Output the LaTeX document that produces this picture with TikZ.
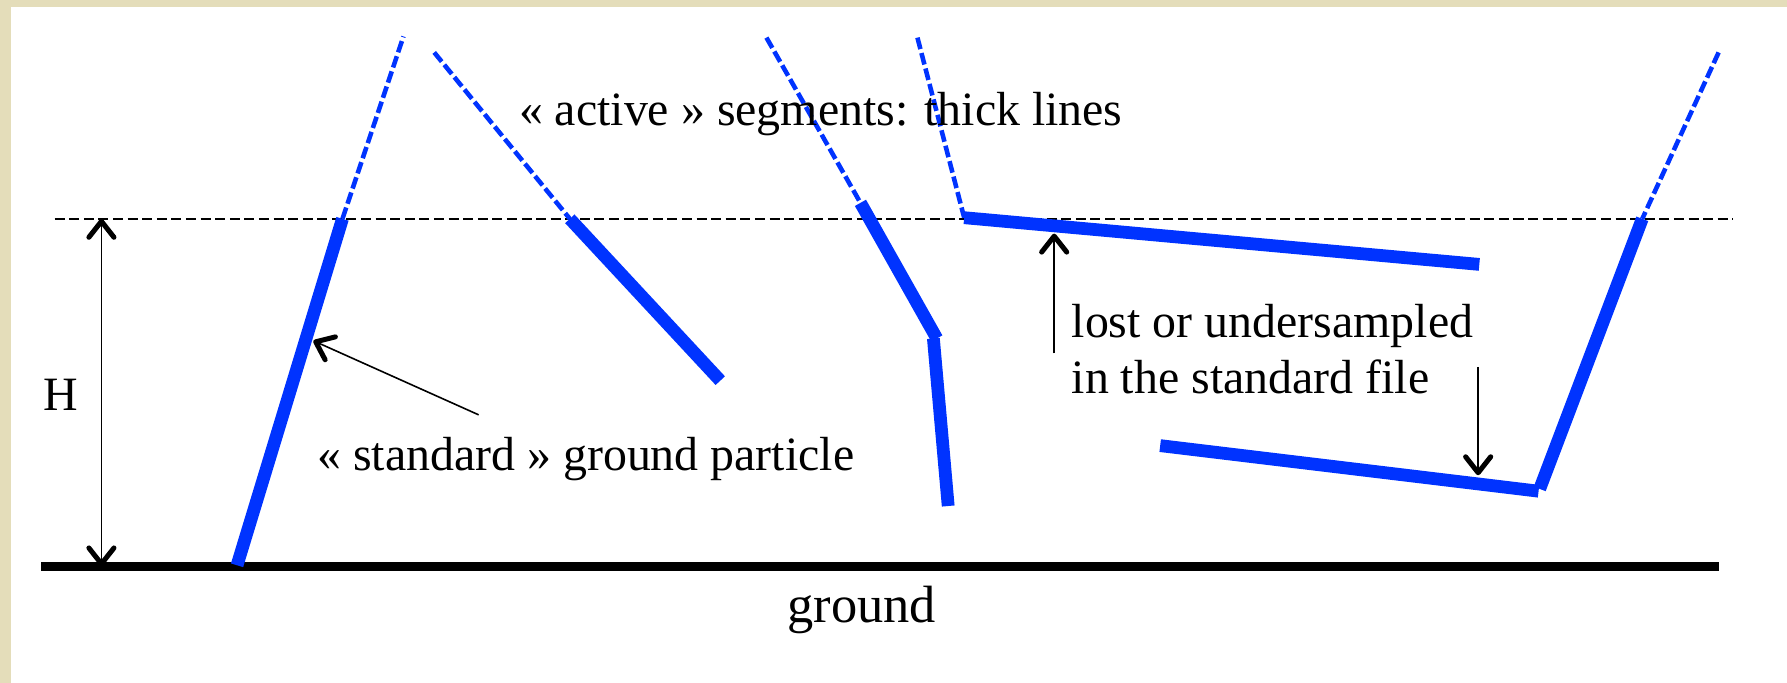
\documentclass[tikz,border=0pt]{standalone}
\usepackage{fontspec}
\setmainfont{Liberation Serif}
\usetikzlibrary{arrows.meta}
\definecolor{segblue}{RGB}{0,51,255}
\definecolor{paper}{RGB}{228,221,186}
\begin{document}
\begin{tikzpicture}[x=0.5pt,y=-0.5pt,
  active/.style={segblue,line width=5.6pt},
  ext/.style={segblue,line width=2pt,dash pattern=on 5.2pt off 1.8pt},
  level/.style={black,line width=1pt,dash pattern=on 4.4pt off 2pt},
  tipb/.tip={Straight Barb[length=7pt,width=11pt,line width=2.2pt,round]},
  ptr/.style={black,line width=0.7pt,-tipb},
  lbl/.style={font=\fontsize{21}{24.5}\selectfont,inner sep=0pt,anchor=base west}]
\fill[paper] (0,0) rectangle (1568,599);
\fill[white] (9.5,6) rectangle (1568,599);
\useasboundingbox (0,0) rectangle (1568,599);
% level line and ground
\draw[level] (48,192) -- (1521,192);
\draw[black,line width=3.6pt] (36,497) -- (1508,497);
% particle 1
\draw[active] (208,496) -- (300.5,192);
\draw[ext] (300.5,192) -- (354,32);
% particle 2
\draw[ext] (381,46) -- (500,192);
\draw[active] (500,192) -- (632,334);
% particle 3
\draw[ext] (672.5,33) -- (755,178);
\draw[active] (755,178) -- (822,297);
\draw[active] (819,297) -- (832,444);
% particle 4
\draw[ext] (805,33) -- (846,191);
\draw[active] (846,191) -- (1298,232);
% particle 5
\draw[ext] (1508,46) -- (1441,192);
\draw[active] (1441,192) -- (1351,429);
\draw[active] (1018,391) -- (1350,431);
% H arrow
\coordinate (Htop) at (89,192);
\coordinate (Hbot) at (89,497);
\draw[black,line width=0.7pt,tipb-tipb] (Htop) -- (Hbot);
\node[lbl] (H) at (38,360) {H};
% labels
\node[lbl] (activelbl) at (455,110) {« active » segments: thick lines};
\node[lbl] (stdlbl) at (278,413) {« standard » ground particle};
\node[lbl] (lost1) at (940,296) {lost or undersampled};
\node[lbl] (lost2) at (940,345) {in the standard file};
\node[lbl,anchor=base,font=\fontsize{23}{26}\selectfont] (groundlbl) at (756,546) {ground};
% pointers
\coordinate (p1s) at (420,364);
\coordinate (p1e) at (275,299);
\draw[ptr] (p1s) -- (p1e);
\coordinate (p2s) at (925,310);
\coordinate (p2e) at (925,205);
\draw[ptr] (p2s) -- (p2e);
\coordinate (p3s) at (1297,322);
\coordinate (p3e) at (1297,417);
\draw[ptr] (p3s) -- (p3e);
\end{tikzpicture}
\end{document}
